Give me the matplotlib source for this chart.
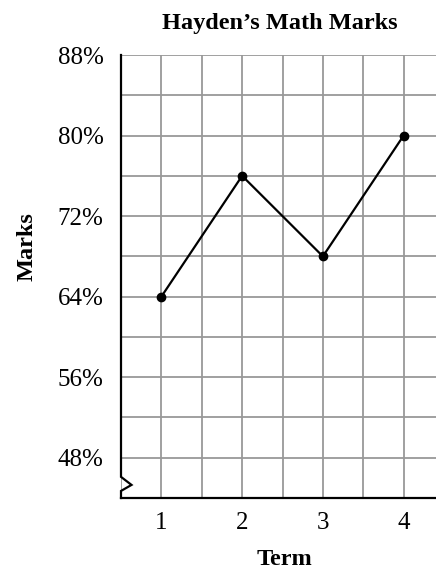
import matplotlib
matplotlib.use("Agg")
import matplotlib.pyplot as plt
import numpy as np

terms = [1, 2, 3, 4]
marks = [64, 76, 68, 80]
yticks = [48, 56, 64, 72, 80, 88]
title = "Hayden\u2019s Math Marks"

plt.rcParams['font.family'] = ['Liberation Serif', 'DejaVu Serif']

fig = plt.figure(figsize=(4.36, 5.74), dpi=100)
W, H = 436, 574
ax = fig.add_axes([121 / W, 1 - 498 / H, 323 / W, 443 / H])
ax.set_xlim(0.5, 4.5)
ax.set_ylim(44, 88)

ax.set_xticks(np.arange(0.5, 4.51, 0.5), minor=True)
ax.set_yticks(np.arange(44, 88.1, 4), minor=True)
ax.set_xticks(terms)
ax.set_yticks(yticks)
ax.set_yticklabels([f"{v}%" for v in yticks])
ax.grid(True, which='both', color='#999999', linewidth=1.3)
ax.set_axisbelow(True)
ax.tick_params(which='both', length=0)
ax.tick_params(axis='y', pad=12.5, labelsize=18)
ax.tick_params(axis='x', pad=10, labelsize=18)

for s in ['top', 'right', 'left']:
    ax.spines[s].set_visible(False)
ax.spines['bottom'].set_linewidth(1.6)
ax.spines['bottom'].set_color('black')
ax.spines['bottom'].set_zorder(5)

# left spine with break symbol
bx = [0.5, 0.5, 0.5 + 10.5 / 80.75, 0.5, 0.5]
by = [88, 46.1, 45.3, 44.7, 44]
ax.plot(bx, by, color='black', linewidth=1.6, clip_on=False, zorder=5,
        solid_joinstyle='miter')

ax.plot(terms, marks, color='black', linewidth=1.6, marker='o',
        markersize=6, zorder=6)

fig.text(280 / W, 1 - 29 / H, title, fontsize=17.5, fontweight='bold',
         ha='center', va='baseline')
fig.text(284 / W, 1 - 565 / H, "Term", fontsize=17.5, fontweight='bold',
         ha='center', va='baseline')
fig.text(33 / W, 1 - 247 / H, "Marks", fontsize=17.5, fontweight='bold',
         ha='center', va='baseline', rotation=90, rotation_mode='anchor')

fig.savefig("out.png", dpi=100)
